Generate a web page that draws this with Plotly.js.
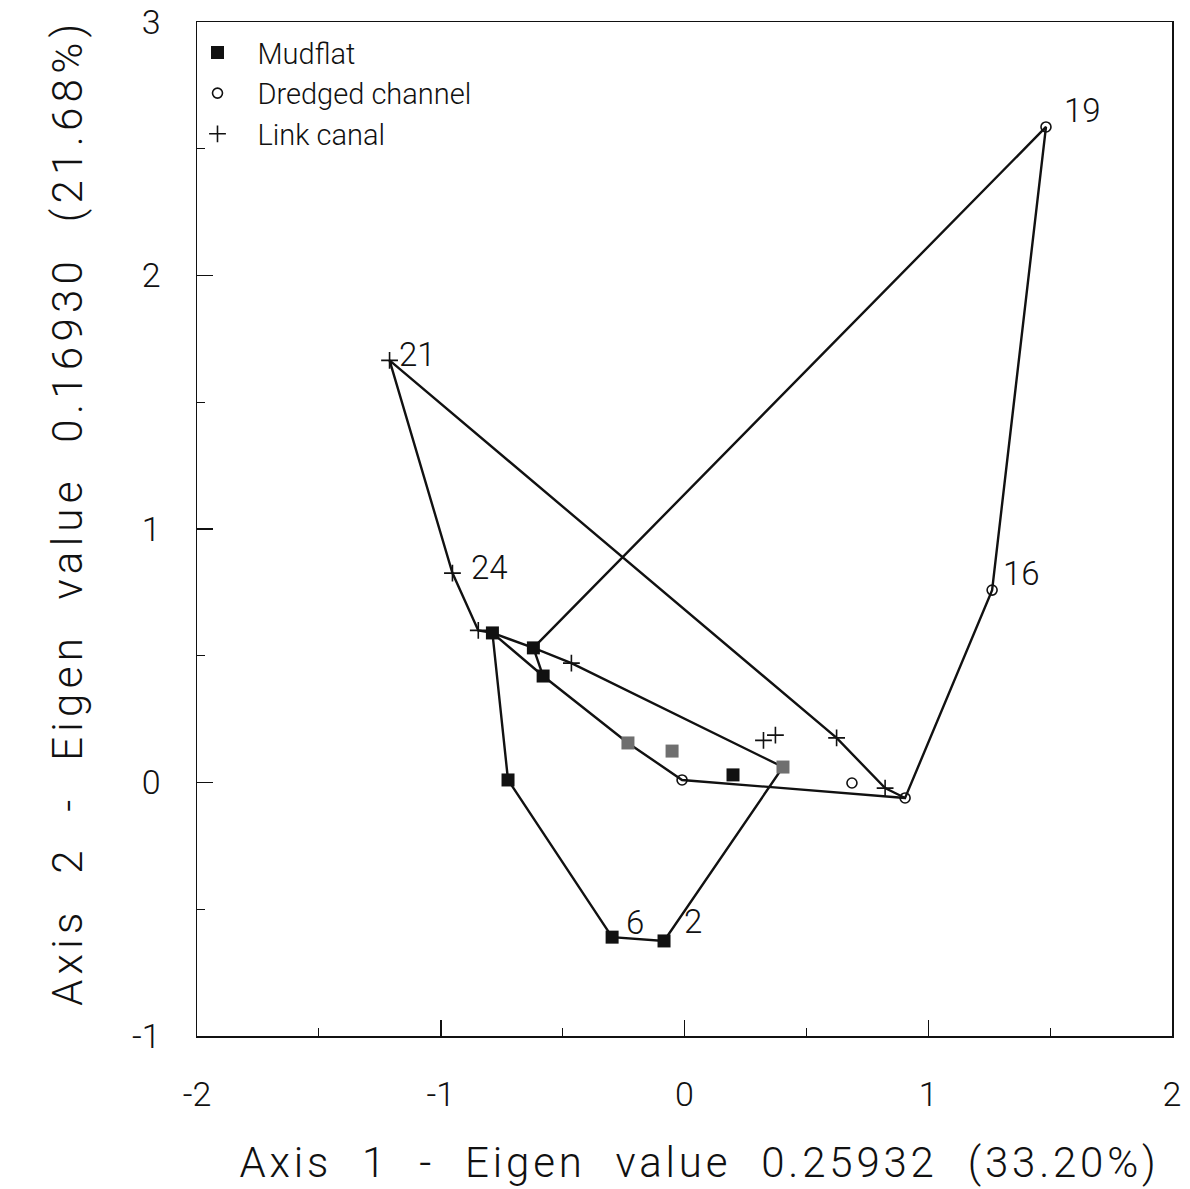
<!DOCTYPE html>
<html>
<head>
<meta charset="utf-8">
<script src="https://cdn.plot.ly/plotly-3.0.1.min.js"></script>
<style>
  html, body { margin: 0; padding: 0; background: #fff; }
  #chart { width: 1190px; height: 1189px; }
  text.xtitle { letter-spacing: 3.8px; word-spacing: 16px; }
  text.ytitle { letter-spacing: 5.3px; word-spacing: 18px; }
</style>
</head>
<body>
<div id="chart"></div>
<script>
// ---- Data ----
// Mudflat sites (filled squares)
const mudX = [-0.788, -0.620, -0.580, -0.724, -0.297, -0.084, -0.232, -0.051, 0.199, 0.404];
const mudY = [ 0.590,  0.531,  0.420,  0.010, -0.610, -0.625,  0.156,  0.124, 0.030, 0.061];
const mudLabels = ["", "", "", "", "6", "2", "", "", "", ""];
// Dredged channel sites (open circles)
const chanX = [1.483, 1.262, 0.905, -0.010, 0.687];
const chanY = [2.586, 0.759, -0.061, 0.010, -0.002];
const chanLabels = ["19", "16", "", "", ""];
// Link canal sites (plus signs)
const linkX = [-1.210, -0.952, -0.846, -0.464, 0.624, 0.823, 0.324, 0.373];
const linkY = [ 1.665,  0.826,  0.600,  0.471, 0.176, -0.022, 0.166, 0.187];
const linkLabels = ["21", "24", "", "", "", "", "", ""];
// Connecting paths between sites (by point id)
const paths = [
  ["L0", "L1", "L2", "M0", "M3", "M4", "M5", "M9", "L3", "M1", "C0", "C1", "C2", "L5", "L4", "L0"],
  ["M0", "M1"],
  ["M0", "M2", "M6", "C3", "C2"],
  ["M1", "M2"]
];
// Tick labels
const xTickVals = [-2, -1, 0, 1, 2];
const xTickText = ["-2", "-1", "0", "1", "2"];
const yTickVals = [-1, 0, 1, 2, 3];
const yTickText = ["-1", "0", "1", "2", "3"];
const seriesNames = ["Mudflat", "Dredged channel", "Link canal"];
const xTitle = "&nbsp;Axis 1 - Eigen value 0.25932 (33.20%)";
const yTitle = "&nbsp;Axis 2 - Eigen value 0.16930 (21.68%)";

// ---- Build ----
const greyMud = [6, 7, 9]; // squares that appear grey in the scan
const lookup = (id) => {
  const k = id[0], i = parseInt(id.slice(1), 10);
  if (k === "M") return [mudX[i], mudY[i]];
  if (k === "C") return [chanX[i], chanY[i]];
  return [linkX[i], linkY[i]];
};
const lx = [], ly = [];
paths.forEach(p => {
  p.forEach(id => { const c = lookup(id); lx.push(c[0]); ly.push(c[1]); });
  lx.push(null); ly.push(null);
});

const FONT = "Roboto, Liberation Sans, Arial, sans-serif";
const W = 300;
const traces = [
  { type: "scatter", mode: "lines", x: lx, y: ly, showlegend: false, hoverinfo: "skip",
    line: { color: "#111", width: 2.4 } },
  { type: "scatter", mode: "markers", name: seriesNames[0], x: mudX, y: mudY,
    marker: { symbol: "square", size: 13,
      color: mudX.map((_, i) => greyMud.includes(i) ? "#6f6f6f" : "#111"),
      line: { width: 0 } } },
  { type: "scatter", mode: "markers", name: seriesNames[1], x: chanX, y: chanY,
    marker: { symbol: "circle-open", size: 10, color: "#111", line: { width: 1.6, color: "#111" } } },
  { type: "scatter", mode: "markers", name: seriesNames[2], x: linkX, y: linkY,
    marker: { symbol: "cross-thin-open", size: 12, color: "#111", line: { width: 1.6, color: "#111" } } }
];

const labelShift = {
  "19": [37, 16], "16": [29, 17], "21": [28, 6], "24": [37, 6], "6": [23, 15], "2": [29, 19]
};
const annotations = [];
const addLabels = (xs, ys, labs) => labs.forEach((t, i) => {
  if (!t) return;
  const s = labelShift[t] || [20, 10];
  annotations.push({ x: xs[i], y: ys[i], xref: "x", yref: "y", text: t, showarrow: false,
    xshift: s[0], yshift: s[1], font: { family: FONT, size: 33, weight: W, color: "#111" } });
});
addLabels(mudX, mudY, mudLabels);
addLabels(chanX, chanY, chanLabels);
addLabels(linkX, linkY, linkLabels);

const axisCommon = {
  ticks: "inside", ticklen: 16, tickwidth: 1.5, tickcolor: "#111",
  showline: true, linecolor: "#111", linewidth: 1.5, mirror: true,
  showgrid: false, zeroline: false,
  tickmode: "array",
  tickfont: { family: FONT, size: 34, weight: W, color: "#111" },
  minor: { ticks: "inside", ticklen: 8, tickwidth: 1.2, tickcolor: "#111", dtick: 0.5, showgrid: false }
};

const layout = {
  width: 1190, height: 1189,
  margin: { l: 197, r: 18, t: 22, b: 153 },
  paper_bgcolor: "#fff", plot_bgcolor: "#fff",
  showlegend: true,
  font: { family: FONT, weight: W, color: "#111" },
  xaxis: Object.assign({}, axisCommon, {
    range: [-2, 2], tickvals: xTickVals, ticktext: xTickText, ticklabelstandoff: 28,
    title: { text: xTitle, font: { family: FONT, size: 42, weight: W, color: "#111" }, standoff: 34 }
  }),
  yaxis: Object.assign({}, axisCommon, {
    range: [-1, 3], tickvals: yTickVals, ticktext: yTickText, ticklabelstandoff: 28,
    title: { text: yTitle, font: { family: FONT, size: 42, weight: W, color: "#111" }, standoff: 36 }
  }),
  legend: {
    x: -0.02, y: 0.995, xanchor: "left", yanchor: "top",
    bgcolor: "rgba(0,0,0,0)", borderwidth: 0, itemwidth: 70,
    font: { family: FONT, size: 29, weight: W, color: "#111" }, tracegroupgap: 0
  },
  annotations: annotations
};

Plotly.newPlot("chart", traces, layout, { staticPlot: true, displayModeBar: false });
</script>
</body>
</html>
